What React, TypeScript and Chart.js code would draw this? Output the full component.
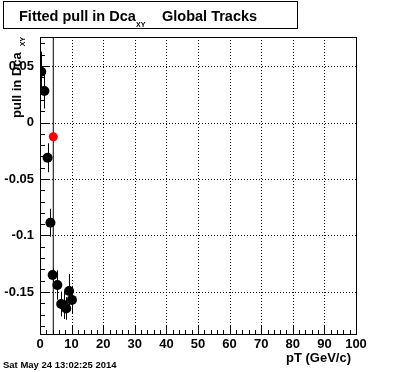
import { useEffect, useRef } from 'react';
import { Chart, registerables } from 'chart.js';
Chart.register(...registerables);

// ---- data ----
const ptValues = [0.4, 1.4, 2.4, 3.3, 4.0, 5.5, 6.7, 7.5, 8.3, 9.2, 10.1];
const pullValues = [0.045, 0.0279, -0.0312, -0.0887, -0.135, -0.1438, -0.1606, -0.1615, -0.1646, -0.1491, -0.157];
const pullErrors = [0.0177, 0.0155, 0.0128, 0.0124, 0.006, 0.013, 0.011, 0.0124, 0.01, 0.015, 0.0124];
const refPt = [4.2];
const refPull = [-0.0126];
const markerLineX = 4.2;

const xTickValues = [0, 10, 20, 30, 40, 50, 60, 70, 80, 90, 100];
const xTickLabels = ['0', '10', '20', '30', '40', '50', '60', '70', '80', '90', '100'];
const yTickValues = [0.05, 0, -0.05, -0.1, -0.15];
const yTickLabels = ['0.05', '0', '-0.05', '-0.1', '-0.15'];

const X_MIN = 0;
const X_MAX = 100;
const Y_MIN = -0.1872;
const Y_MAX = 0.0757;

const titleMain = 'Fitted pull in Dca';
const titleSub = 'XY';
const titleRest = 'Global Tracks';
const yTitleMain = 'pull in Dca';
const yTitleSub = 'XY';
const xTitle = 'pT (GeV/c)';
const dateText = 'Sat May 24 13:02:25 2014';

const FONT = '"Liberation Sans", Arial, Helvetica, sans-serif';

const decor = {
  id: 'rootDecor',
  beforeDatasetsDraw(chart: any) {
    const ctx = chart.ctx as CanvasRenderingContext2D;
    const { left, right, top, bottom } = chart.chartArea;
    const xs = chart.scales.x;
    const ys = chart.scales.y;
    ctx.save();
    // dotted grid
    ctx.strokeStyle = '#000';
    ctx.lineWidth = 1;
    ctx.setLineDash([1, 2]);
    xTickValues.forEach((v) => {
      const px = Math.round(xs.getPixelForValue(v)) + 0.5;
      if (px <= left + 1 || px >= right - 1) return;
      ctx.beginPath();
      ctx.moveTo(px, top);
      ctx.lineTo(px, bottom);
      ctx.stroke();
    });
    yTickValues.forEach((v) => {
      const py = Math.round(ys.getPixelForValue(v)) + 0.5;
      ctx.beginPath();
      ctx.moveTo(left, py);
      ctx.lineTo(right, py);
      ctx.stroke();
    });
    ctx.setLineDash([]);
    // error bars
    ptValues.forEach((x, i) => {
      const px = Math.round(xs.getPixelForValue(x)) + 0.5;
      const y1 = ys.getPixelForValue(pullValues[i] + pullErrors[i]);
      const y2 = ys.getPixelForValue(pullValues[i] - pullErrors[i]);
      ctx.beginPath();
      ctx.moveTo(px, y1);
      ctx.lineTo(px, y2);
      ctx.stroke();
    });
    ctx.restore();
  },
  afterDatasetsDraw(chart: any) {
    const ctx = chart.ctx as CanvasRenderingContext2D;
    const { left, right, top, bottom } = chart.chartArea;
    const xs = chart.scales.x;
    const ys = chart.scales.y;
    ctx.save();
    ctx.strokeStyle = '#000';
    ctx.fillStyle = '#000';
    ctx.lineWidth = 1;
    const L = Math.round(left) + 0.5;
    const R = Math.round(right) + 0.5;
    const T = Math.round(top) + 0.5;
    const B = Math.round(bottom) + 0.5;
    ctx.strokeRect(L, T, R - L, B - T);

    // x ticks
    for (let k = 0; k <= 50; k++) {
      const v = k * 2;
      const px = Math.round(xs.getPixelForValue(v)) + 0.5;
      const len = k % 5 === 0 ? 9 : 4.5;
      ctx.beginPath();
      ctx.moveTo(px, B);
      ctx.lineTo(px, B - len);
      ctx.stroke();
    }
    // y ticks
    for (let k = -18; k <= 7; k++) {
      const v = k / 100;
      const py = Math.round(ys.getPixelForValue(v)) + 0.5;
      const len = k % 5 === 0 ? 9 : 4.5;
      ctx.beginPath();
      ctx.moveTo(L, py);
      ctx.lineTo(L + len, py);
      ctx.stroke();
    }

    // tick labels
    ctx.font = `bold 13px ${FONT}`;
    ctx.textAlign = 'center';
    ctx.textBaseline = 'alphabetic';
    xTickValues.forEach((v, i) => {
      ctx.fillText(xTickLabels[i], xs.getPixelForValue(v), 348);
    });
    ctx.textAlign = 'right';
    ctx.textBaseline = 'middle';
    yTickValues.forEach((v, i) => {
      ctx.fillText(yTickLabels[i], 34, ys.getPixelForValue(v));
    });

    // x title
    ctx.textAlign = 'right';
    ctx.textBaseline = 'alphabetic';
    ctx.font = `bold 13px ${FONT}`;
    ctx.fillText(xTitle, 351, 362);

    // y title (rotated)
    ctx.save();
    ctx.translate(21, 118);
    ctx.rotate(-Math.PI / 2);
    ctx.textAlign = 'left';
    ctx.font = `bold 13px ${FONT}`;
    ctx.fillText(yTitleMain, 0, 0);
    const w = ctx.measureText(yTitleMain).width;
    ctx.font = `bold 7px ${FONT}`;
    ctx.fillText(yTitleSub, w + 6, 3.5);
    ctx.restore();

    // title box
    ctx.fillStyle = '#fff';
    ctx.fillRect(3.5, 1.5, 294, 27);
    ctx.fillStyle = '#000';
    ctx.strokeRect(3.5, 1.5, 294, 27);
    ctx.textAlign = 'left';
    ctx.font = `bold 14.5px ${FONT}`;
    ctx.fillText(titleMain, 19, 21);
    ctx.font = `bold 7px ${FONT}`;
    ctx.fillText(titleSub, 136, 27);
    ctx.font = `bold 14.5px ${FONT}`;
    ctx.fillText(titleRest, 162, 21);

    // date
    ctx.font = `bold 9.5px ${FONT}`;
    ctx.fillText(dateText, 3, 368);
    ctx.restore();
  },
};

export default function App() {
  const ref = useRef<HTMLCanvasElement>(null);
  useEffect(() => {
    if (!ref.current) return;
    const chart = new Chart(ref.current, {
      type: 'scatter',
      data: {
        datasets: [
          {
            label: 'ref',
            data: refPt.map((x, i) => ({ x, y: refPull[i] })),
            pointRadius: 4.5,
            pointBackgroundColor: '#ff0000',
            pointBorderWidth: 0,
            order: 0,
          },
          {
            label: 'pull',
            data: ptValues.map((x, i) => ({ x, y: pullValues[i] })),
            pointRadius: 5,
            pointBackgroundColor: '#000000',
            pointBorderWidth: 0,
            order: 1,
          },
          {
            label: 'line',
            data: [
              { x: markerLineX, y: Y_MIN },
              { x: markerLineX, y: Y_MAX },
            ],
            showLine: true,
            borderColor: '#000',
            borderWidth: 1,
            pointRadius: 0,
            order: 2,
          } as any,
        ],
      },
      options: {
        animation: false,
        responsive: false,
        devicePixelRatio: 1,
        events: [],
        layout: { padding: { left: 40, top: 37, right: 40, bottom: 38 } },
        plugins: {
          legend: { display: false },
          tooltip: { enabled: false },
          title: { display: false },
        },
        scales: {
          x: { type: 'linear', min: X_MIN, max: X_MAX, display: false },
          y: { type: 'linear', min: Y_MIN, max: Y_MAX, display: false },
        },
      },
      plugins: [decor],
    });
    return () => chart.destroy();
  }, []);
  return (
    <div style={{ position: 'fixed', left: 0, top: 0, width: 396, height: 372, background: '#fff' }}>
      <canvas ref={ref} width={396} height={372} style={{ display: 'block', width: 396, height: 372 }} />
    </div>
  );
}
